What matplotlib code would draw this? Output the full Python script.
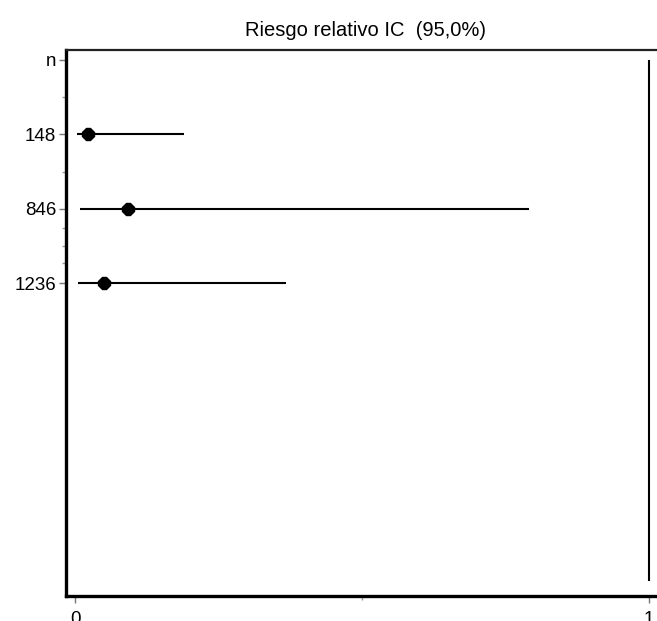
"""
Forest plot of relative risk with 95% confidence intervals
"""
import matplotlib.pyplot as plt
import numpy as np

# rows, top to bottom
labels = ["n", "148", "846", "1236"]
rr = [0.023, 0.092, 0.051]
ci_low = [0.003, 0.009, 0.005]
ci_high = [0.19, 0.79, 0.368]

title = "Riesgo relativo IC  (95,0%)"

plt.rc("font", family=["Liberation Sans", "DejaVu Sans"])
fig = plt.figure(figsize=(6.57, 6.21), dpi=100)
ax = fig.add_axes([0.1005, 0.0403, 0.905, 0.8792])

rows = np.arange(1, len(rr) + 1)
ax.hlines(rows, ci_low, ci_high, color="black", linewidth=1.5, zorder=2)
ax.plot(rr, rows, "8", color="black", markersize=9, zorder=3)

# line of no effect
ax.vlines(1, 0, 7.0, color="black", linewidth=1.5)

ax.set_xlim(-0.0157, 1.02)
ax.set_ylim(7.195, -0.134)

ax.set_yticks(range(len(labels)))
ax.set_yticklabels(labels)
ax.set_yticks([0.5, 1.5, 2.25, 2.5, 2.72], minor=True)
ax.set_xticks([0, 1])
ax.set_xticklabels(["0", "1"])
ax.set_xticks([0.5], minor=True)

ax.tick_params(axis="both", which="major", length=5, width=1, color="#777777",
               labelsize=13.5, pad=2)
ax.tick_params(axis="both", which="minor", length=3, width=1, color="#999999")
ax.tick_params(axis="x", which="major", pad=6)

ax.spines["right"].set_visible(False)
ax.spines["left"].set_linewidth(2.4)
ax.spines["bottom"].set_linewidth(2.4)
ax.spines["top"].set_linewidth(1.6)
ax.spines["top"].set_color("#222222")

fig.text(0.557, 0.951, title, ha="center", va="center", fontsize=14.5)

plt.savefig("out.png")
plt.close()
